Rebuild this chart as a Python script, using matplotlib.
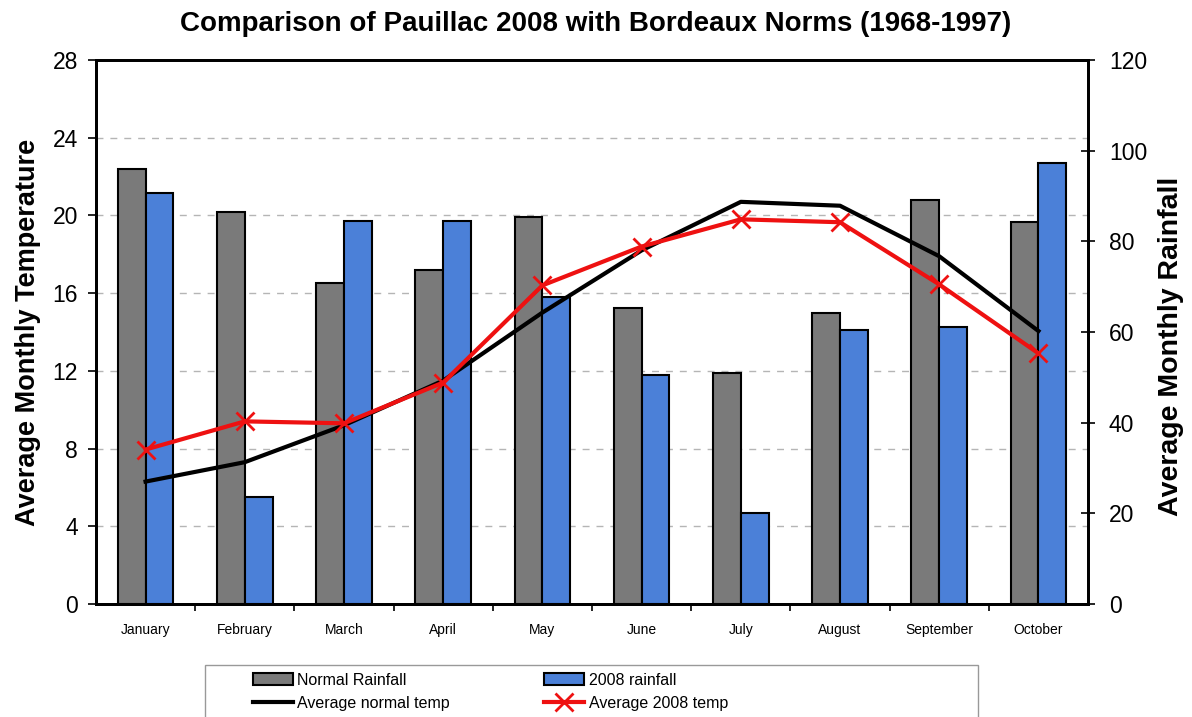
import matplotlib.pyplot as plt
from matplotlib.lines import Line2D
from matplotlib.patches import Patch, Rectangle

plt.rcParams['font.family'] = ['Liberation Sans', 'DejaVu Sans']

# Data
months = ['January', 'February', 'March', 'April', 'May', 'June',
          'July', 'August', 'September', 'October']
normal_rain = [96.0, 86.5, 70.8, 73.7, 85.4, 65.3, 51.0, 64.2, 89.1, 84.3]
rain_2008 = [90.7, 23.6, 84.5, 84.5, 67.7, 50.5, 20.0, 60.4, 61.1, 97.3]
normal_temp = [6.3, 7.3, 9.2, 11.5, 15.0, 18.2, 20.7, 20.5, 17.9, 14.05]
temp_2008 = [7.95, 9.4, 9.3, 11.4, 16.4, 18.4, 19.8, 19.65, 16.45, 12.9]

gray = '#7a7a7a'
blue = '#4b80d8'

fig = plt.figure(figsize=(11.92, 7.17), dpi=100)
ax = fig.add_axes([0.0805, 0.1576, 0.8323, 0.7587])
ax2 = ax.twinx()
ax3 = ax.twinx()

x = list(range(len(months)))
w = 0.28

# left axis: temperature with dashed grid
ax.set_ylim(0, 28)
ax.set_yticks(range(0, 29, 4))
ax.set_xlim(-0.5, len(months) - 0.5)
ax.grid(axis='y', color='#b5b5b5', linestyle=(0, (5, 5)), linewidth=1)
ax.set_axisbelow(True)
ax.set_ylabel('Average Monthly Temperature', fontsize=19.5, fontweight='bold', labelpad=8)
ax.tick_params(axis='y', labelsize=16.5, direction='out', length=6, width=1.2, pad=7)
ax.set_xticks(x)
ax.set_xticklabels(months, fontsize=10)
ax.tick_params(axis='x', which='major', length=0, pad=14)
ax.set_xticks([i + 0.5 for i in x[:-1]], minor=True)
ax.tick_params(axis='x', which='minor', direction='out', length=5, width=1.2)

# right axis: rainfall bars
ax2.bar([i - w / 2 for i in x], normal_rain, w, color=gray, edgecolor='black', linewidth=1.5)
ax2.bar([i + w / 2 for i in x], rain_2008, w, color=blue, edgecolor='black', linewidth=1.5)
ax2.set_ylim(0, 120)
ax2.set_yticks(range(0, 121, 20))
ax2.tick_params(axis='y', labelsize=16.5, direction='inout', length=10, width=1.2, pad=10)
ax2.set_ylabel('Average Monthly Rainfall', fontsize=20.5, fontweight='bold')
ax2.yaxis.set_label_coords(1.07, 0.474)

# lines on top of bars
ax3.set_ylim(0, 28)
ax3.plot(x, normal_temp, color='black', linewidth=3, zorder=3)
ax3.plot(x, temp_2008, color='#ee1111', linewidth=3, marker='x', markersize=13,
         markeredgewidth=2, zorder=4)
ax3.set_yticks([])
ax3.spines['right'].set_visible(False)

for a in (ax, ax2):
    for s in a.spines.values():
        s.set_linewidth(2)

fig.suptitle('Comparison of Pauillac 2008 with Bordeaux Norms (1968-1997)',
             fontsize=20, fontweight='bold', y=0.985)

# legend box (runs off the bottom edge)
fig.patches.append(Rectangle((0.172, -0.05), 0.6485, 0.1225, transform=fig.transFigure,
                             facecolor='white', edgecolor='#999999', linewidth=1))
handles = [Patch(facecolor=gray, edgecolor='black', linewidth=1.5),
           Line2D([], [], color='black', linewidth=3),
           Patch(facecolor=blue, edgecolor='black', linewidth=1.5),
           Line2D([], [], color='#ee1111', linewidth=3, marker='x', markersize=13, markeredgewidth=2)]
labels = ['Normal Rainfall', 'Average normal temp', '2008 rainfall', 'Average 2008 temp']
leg = fig.legend(handles, labels, ncol=2, loc='upper left', bbox_to_anchor=(0.212, 0.062),
                 fontsize=11.5, frameon=False, handlelength=2.5, handletextpad=0.3,
                 columnspacing=5.9, labelspacing=0.5, borderpad=0, borderaxespad=0)

fig.savefig('out.png', dpi=100)
